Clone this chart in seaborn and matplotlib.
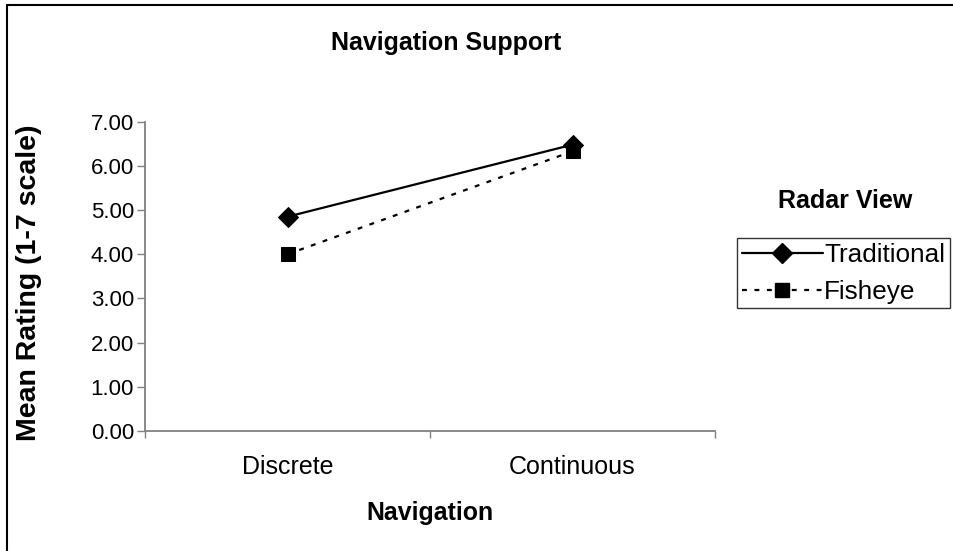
import matplotlib
matplotlib.use("Agg")
import matplotlib.pyplot as plt
from matplotlib.lines import Line2D
from matplotlib.ticker import FixedLocator, FormatStrFormatter, NullFormatter
import seaborn as sns
import pandas as pd

# Mean ratings per navigation mode and radar view
navigation = ["Discrete", "Continuous"]
radar_views = ["Traditional", "Fisheye"]
traditional = [4.85, 6.48]
fisheye = [4.00, 6.33]
y_ticks = [0, 1, 2, 3, 4, 5, 6, 7]

df = pd.DataFrame({
    "Navigation": navigation * 2,
    "Radar View": [radar_views[0]] * 2 + [radar_views[1]] * 2,
    "Rating": traditional + fisheye,
})

sns.set_theme(style="white")
plt.rcParams["font.family"] = ["Liberation Sans", "DejaVu Sans"]
plt.rcParams["text.color"] = "black"
plt.rcParams["axes.labelcolor"] = "black"
plt.rcParams["xtick.color"] = "black"
plt.rcParams["ytick.color"] = "black"

DASH = (2.2, 3.4)
LW = 1.6

W, H = 954, 551
fig = plt.figure(figsize=(W / 100, H / 100), dpi=100)
ax = fig.add_axes([145 / W, 1 - 431 / H, (715 - 145) / W, (431 - 121.7) / H])

sns.lineplot(
    data=df, x="Navigation", y="Rating", hue="Radar View", style="Radar View",
    markers={"Traditional": "D", "Fisheye": "s"},
    dashes={"Traditional": "", "Fisheye": DASH},
    palette={"Traditional": "black", "Fisheye": "black"},
    markersize=10, linewidth=LW, markeredgecolor="black",
    legend=False, ax=ax, sort=False,
)

ax.set_xlim(-0.5, 1.5)
ax.set_ylim(0, 7)
ax.set_yticks(y_ticks)
ax.yaxis.set_major_formatter(FormatStrFormatter("%.2f"))

# Category labels sit between boundary ticks
ax.set_xticks([0, 1], minor=True)
ax.set_xticklabels(navigation, minor=True)
ax.xaxis.set_major_locator(FixedLocator([-0.5, 0.5, 1.5]))
ax.xaxis.set_major_formatter(NullFormatter())
ax.tick_params(axis="x", which="minor", length=0, labelsize=18, pad=17)
ax.tick_params(axis="x", which="major", length=5, width=1, color="#808080", direction="out", bottom=True)
ax.tick_params(axis="y", length=6, width=1, color="#808080", direction="out", left=True,
               labelsize=16, pad=2)

for s in ["top", "right"]:
    ax.spines[s].set_visible(False)
for s in ["left", "bottom"]:
    ax.spines[s].set_color("#808080")
    ax.spines[s].set_linewidth(1.3)

ax.set_xlabel("Navigation", fontsize=17.9, fontweight="bold", va="center")
ax.xaxis.set_label_coords(0.5, -(513 - 431) / (431 - 121.7))
ax.set_ylabel("Mean Rating (1-7 scale)", fontsize=20.5, fontweight="bold", va="center")
ax.yaxis.set_label_coords((29 - 145) / (715 - 145), (431 - 283) / (431 - 121.7))

fig.text(446 / W, 1 - 43 / H, "Navigation Support", ha="center", va="center",
         fontsize=18, fontweight="bold")
fig.text(845 / W, 1 - 201 / H, "Radar View", ha="center", va="center",
         fontsize=18, fontweight="bold")

handles = [
    Line2D([], [], color="black", lw=LW, marker="D", markersize=10),
    Line2D([], [], color="black", lw=LW, marker="s", markersize=10, dashes=DASH),
]
leg = fig.legend(handles, radar_views, loc="upper left",
                 bbox_to_anchor=(737 / W, 1 - 238 / H), frameon=True, fancybox=False,
                 edgecolor="black", fontsize=18.8, handlelength=3.1, handletextpad=0.05,
                 borderpad=0.18, labelspacing=0.5, borderaxespad=0)
leg.get_frame().set_linewidth(1.0)

# Outer chart border on the left and top
fig.add_artist(Line2D([7 / W, 7 / W], [0, 1 - 5 / H], color="black", lw=1.5, transform=fig.transFigure))
fig.add_artist(Line2D([7 / W, 1], [1 - 5 / H, 1 - 5 / H], color="black", lw=1.5, transform=fig.transFigure))

fig.savefig("out.png", dpi=100, facecolor="white")
